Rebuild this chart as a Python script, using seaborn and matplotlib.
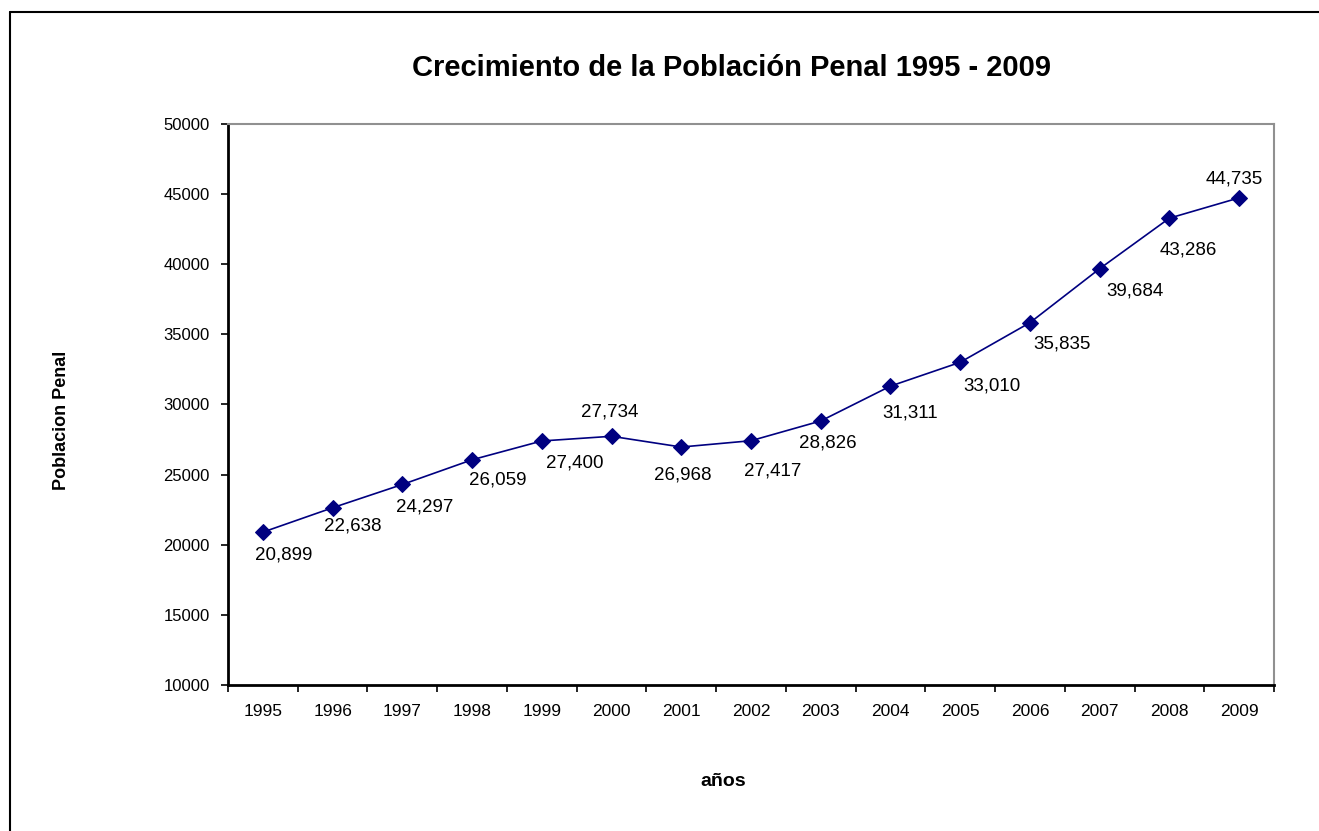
import numpy as np
import pandas as pd
import matplotlib
matplotlib.use("Agg")
import matplotlib.pyplot as plt
import seaborn as sns
from matplotlib.lines import Line2D
from matplotlib.ticker import FixedLocator

sns.set_style("white")
plt.rcParams['font.family'] = ['Liberation Sans', 'DejaVu Sans']
plt.rcParams['text.color'] = 'black'
plt.rcParams['xtick.color'] = 'black'
plt.rcParams['ytick.color'] = 'black'

# datos
years = ["1995", "1996", "1997", "1998", "1999", "2000", "2001", "2002",
         "2003", "2004", "2005", "2006", "2007", "2008", "2009"]
poblacion = [20899, 22638, 24297, 26059, 27400, 27734, 26968, 27417,
             28826, 31311, 33010, 35835, 39684, 43286, 44735]
y_ticks = [10000, 15000, 20000, 25000, 30000, 35000, 40000, 45000, 50000]

# desplazamiento de las etiquetas (pixeles, hacia abajo positivo)
label_dx = [21, 20, 22, 26, 33, -2, 1, 22, 7, 20, 32, 32, 35, 19, -5]
label_dy = [23, 18, 23, 20, 22, -24, 28, 30, 22, 27, 24, 21, 22, 32, -19]

df = pd.DataFrame({"pos": np.arange(len(years)), "poblacion": poblacion})

fig = plt.figure(figsize=(13.19, 8.31), dpi=100)
ax = fig.add_axes([228 / 1319, 1 - 685 / 831, (1274 - 228) / 1319, (685 - 124) / 831])

sns.lineplot(data=df, x="pos", y="poblacion", ax=ax, color="#000080",
             linewidth=1.2, marker="D", markersize=8, markeredgecolor="#000080")

for i, v in enumerate(poblacion):
    ax.annotate(f"{v:,}", (i, v), xytext=(label_dx[i], -label_dy[i]),
                textcoords="offset pixels", ha="center", va="center",
                fontsize=13.5, color="black")

ax.set_xlim(-0.5, len(years) - 0.5)
ax.set_ylim(y_ticks[0], y_ticks[-1])
ax.set_yticks(y_ticks)
ax.set_yticklabels([str(t) for t in y_ticks], fontsize=12)
ax.set_xticks(np.arange(len(years)))
ax.set_xticklabels(years, fontsize=12.5)
ax.xaxis.set_minor_locator(FixedLocator(np.arange(len(years) + 1) - 0.5))
ax.tick_params(axis="x", which="major", length=0, pad=14)
ax.tick_params(axis="x", which="minor", length=5, width=1.2, direction="out",
               bottom=True, color="black")
ax.tick_params(axis="y", length=5, width=1.2, direction="out", left=True,
               color="black", pad=8)
ax.set_xlabel("")
ax.set_ylabel("")

for side in ["left", "bottom"]:
    ax.spines[side].set_color("black")
    ax.spines[side].set_linewidth(2)
for side in ["top", "right"]:
    ax.spines[side].set_color("#909090")
    ax.spines[side].set_linewidth(1.5)

fig.text(732 / 1319, 1 - 68 / 831, "Crecimiento de la Población Penal 1995 - 2009",
         ha="center", va="center", fontsize=21, fontweight="bold", color="black")
fig.text(723 / 1319, 1 - 782 / 831, "años", ha="center", va="center",
         fontsize=14, fontweight="bold", color="black")
fig.text(62 / 1319, 1 - 420 / 831, "Poblacion Penal", ha="center", va="center",
         rotation=90, fontsize=13, fontweight="bold", color="black")

# marco exterior
fig.add_artist(Line2D([10 / 1319, 10 / 1319], [0, 1 - 12 / 831],
                      transform=fig.transFigure, color="black", linewidth=1.5))
fig.add_artist(Line2D([10 / 1319, 1], [1 - 12 / 831, 1 - 12 / 831],
                      transform=fig.transFigure, color="black", linewidth=1.5))

fig.savefig("out.png", dpi=100)
